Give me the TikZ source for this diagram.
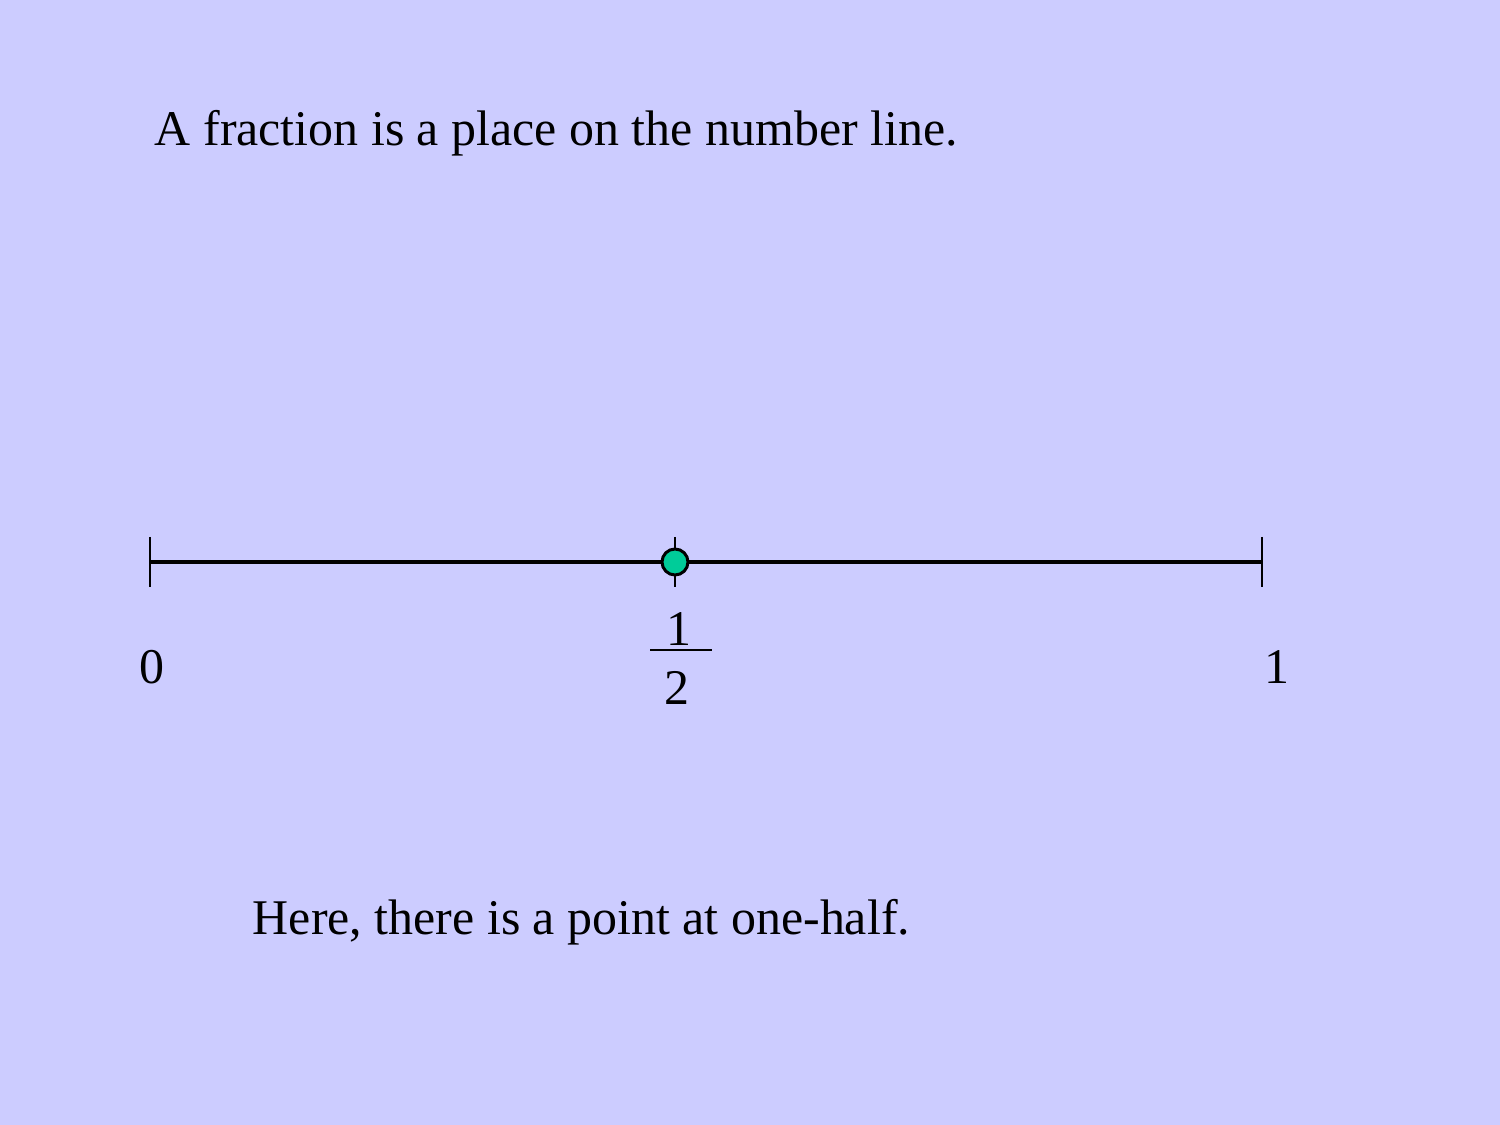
\documentclass[tikz,border=0pt]{standalone}
\usepackage{fontspec}
\setmainfont{Liberation Serif}
\definecolor{slidebg}{HTML}{CCCCFF}
\definecolor{dotgreen}{HTML}{00CC99}
\tikzset{
  lbl/.style={inner sep=0pt,font=\fontsize{14.2}{17}\selectfont},
  tick/.style={line width=0.75pt},
}

\begin{document}
\begin{tikzpicture}[x=0.01cm,y=-0.01cm,line width=1.05pt]
\def\ly{562} % height of the number line
\def\th{25}  % half tick length
\fill[slidebg] (0,0) rectangle (1500,1125);
\useasboundingbox (0,0) rectangle (1500,1125);
% ---- heading ----
\node[lbl,anchor=base west] (head) at (153,146) {A fraction is a place on the number line.};
% ---- number line ----
\coordinate (zero) at (150,\ly);
\coordinate (one) at (1262,\ly);
\draw (zero) -- (one);
\foreach \x in {150,675,1262}{
  \draw[tick] (\x,\ly-\th) -- (\x,\ly+\th);}
\filldraw[fill=dotgreen,line width=0.85pt] (675,\ly) circle (13);
% ---- labels ----
\node[lbl,anchor=base] (lzero) at (152,683) {0};
\node[lbl,anchor=base] (lone) at (1277,683) {1};
\node[lbl,anchor=base] (num) at (679,646) {1};
\node[lbl,anchor=base] (den) at (677,705) {2};
\draw[tick] (650,650) -- (712,650);
% ---- caption ----
\node[lbl,anchor=base west] (foot) at (251,934) {Here, there is a point at one-half.};
\end{tikzpicture}
\end{document}
